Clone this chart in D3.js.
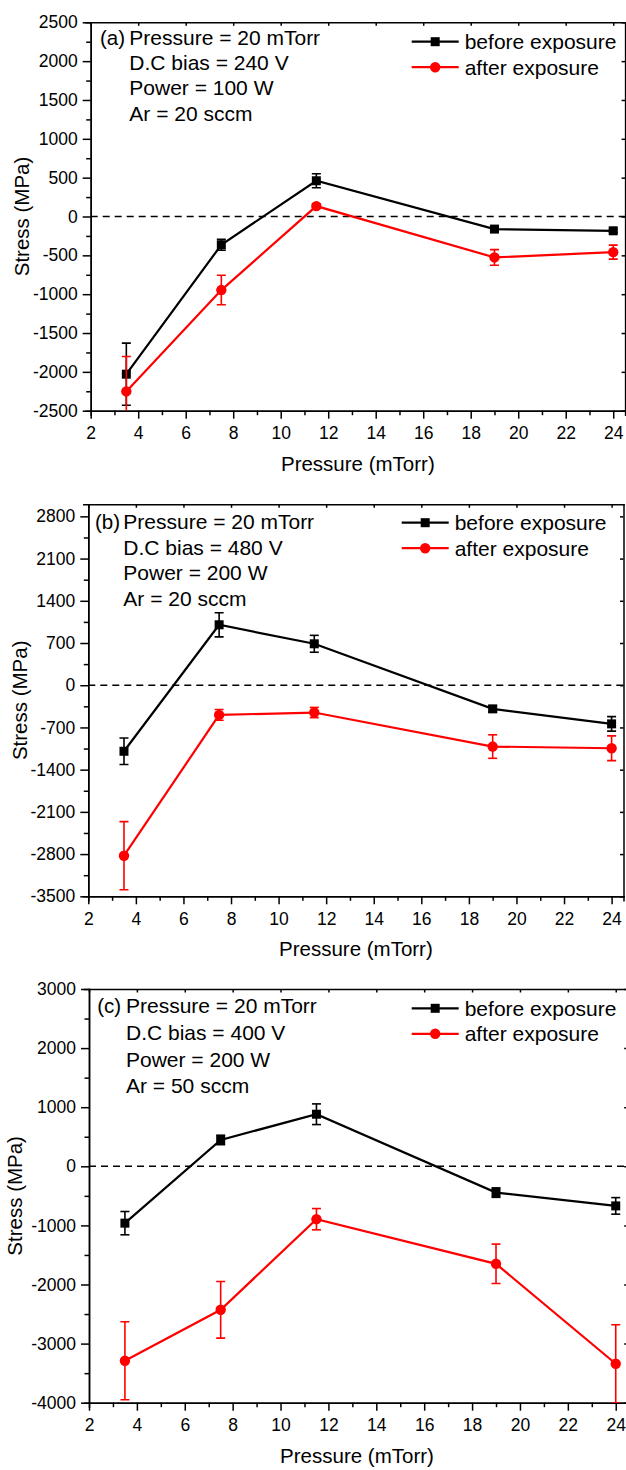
<!DOCTYPE html>
<html>
<head>
<meta charset="utf-8">
<script src="https://cdn.jsdelivr.net/npm/d3@7"></script>
<style>
  body { margin: 0; background: #fff; }
  svg { display: block; font-family: "Liberation Sans", Arial, sans-serif; }
  .axis path, .axis line { stroke: #000; stroke-width: 1.5; }
  .axis text { font-size: 17.5px; fill: #000; font-family: "Liberation Sans", Arial, sans-serif; }
</style>
</head>
<body>
<div id="chart-container"></div>
<script>
// Data
const pressure = [3.5, 7.5, 11.5, 19, 24];
const xTicks = [2, 4, 6, 8, 10, 12, 14, 16, 18, 20, 22, 24];

// panel (a)
const beforeA = [-2030, -364, 460, -162, -184];
const beforeErrA = [400, 70, 90, 20, 20];
const afterA = [-2252, -947, 134, -527, -459];
const afterErrA = [450, 190, 30, 100, 90];
const yTicksA = [-2500, -2000, -1500, -1000, -500, 0, 500, 1000, 1500, 2000, 2500];
const notesA = ["Pressure = 20 mTorr", "D.C bias = 240 V", "Power = 100 W", "Ar = 20 sccm"];

// panel (b)
const beforeB = [-1095, 1002, 687, -392, -641];
const beforeErrB = [220, 200, 140, 50, 120];
const afterB = [-2827, -492, -453, -1017, -1045];
const afterErrB = [565, 90, 85, 195, 205];
const yTicksB = [-3500, -2800, -2100, -1400, -700, 0, 700, 1400, 2100, 2800];
const notesB = ["Pressure = 20 mTorr", "D.C bias = 480 V", "Power = 200 W", "Ar = 20 sccm"];

// panel (c)
const beforeC = [-962, 446, 881, -445, -670];
const beforeErrC = [197, 80, 175, 80, 140];
const afterC = [-3290, -2428, -895, -1650, -3341];
const afterErrC = [660, 480, 180, 333, 660];
const yTicksC = [-4000, -3000, -2000, -1000, 0, 1000, 2000, 3000];
const notesC = ["Pressure = 20 mTorr", "D.C bias = 400 V", "Power = 200 W", "Ar = 50 sccm"];

const seriesNames = ["before exposure", "after exposure"];
const colors = ["#000000", "#ff0000"];

// Panel layout (pixel boxes of each frame)
const panels = [
  { id: "a", label: "(a)", box: { left: 90.7, right: 625.1, top: 22.3, bottom: 410.7 },
    yDomain: [-2500, 2500], yTicks: yTicksA, notes: notesA,
    before: beforeA, beforeErr: beforeErrA, after: afterA, afterErr: afterErrA,
    labelX: 100, noteX: 129.3, noteY: 45, noteGap: 25.2, titleX: 22, legendX: 411.7, legendY: 41.7 },
  { id: "b", label: "(b)", box: { left: 88.3, right: 623.5, top: 504.3, bottom: 896.3 },
    yDomain: [-3500, 3000], yTicks: yTicksB, notes: notesB,
    before: beforeB, beforeErr: beforeErrB, after: afterB, afterErr: afterErrB,
    labelX: 95, noteX: 123.3, noteY: 529.3, noteGap: 25.5, titleX: 20, legendX: 401.7, legendY: 522.7 },
  { id: "c", label: "(c)", box: { left: 89, right: 627.7, top: 989, bottom: 1402.7 },
    yDomain: [-4000, 3000], yTicks: yTicksC, notes: notesC,
    before: beforeC, beforeErr: beforeErrC, after: afterC, afterErr: afterErrC,
    labelX: 97.3, noteX: 126, noteY: 1013.3, noteGap: 26.7, titleX: 15, legendX: 411.7, legendY: 1008.3 }
];

const plain = d => String(d);

const svg = d3.select('#chart-container')
  .append('svg')
  .attr('width', 626)
  .attr('height', 1470);

panels.forEach(p => {
  const b = p.box;
  const x = d3.scaleLinear().domain([2, 24.5]).range([b.left, b.right]);
  const y = d3.scaleLinear().domain(p.yDomain).range([b.bottom, b.top]);
  const g = svg.append('g');

  const yStep = p.yTicks[1] - p.yTicks[0];
  const yMinor = p.yTicks.map(v => v + yStep / 2).filter(v => v < p.yDomain[1]);
  const xMinor = xTicks.map(v => v + 1).filter(v => v < 24.5);

  // clip for data
  g.append('clipPath').attr('id', 'clip-' + p.id)
    .append('rect')
    .attr('x', b.left).attr('y', b.top)
    .attr('width', b.right - b.left).attr('height', b.bottom - b.top);

  // minor ticks
  g.append('g').attr('class', 'axis')
    .attr('transform', `translate(${b.left},0)`)
    .call(d3.axisLeft(y).tickValues(yMinor).tickSize(4.5).tickFormat(''));
  g.append('g').attr('class', 'axis')
    .attr('transform', `translate(0,${b.bottom})`)
    .call(d3.axisBottom(x).tickValues(xMinor).tickSize(4.5).tickFormat(''));

  // major axes
  g.append('g').attr('class', 'axis')
    .attr('transform', `translate(${b.left},0)`)
    .call(d3.axisLeft(y).tickValues(p.yTicks).tickFormat(plain).tickSize(8).tickPadding(5).tickSizeOuter(0));
  g.append('g').attr('class', 'axis')
    .attr('transform', `translate(0,${b.bottom})`)
    .call(d3.axisBottom(x).tickValues(xTicks).tickFormat(plain).tickSize(8).tickPadding(8).tickSizeOuter(0));

  // top and right frame with small inward ticks
  g.append('g').attr('class', 'axis')
    .attr('transform', `translate(0,${b.top})`)
    .call(d3.axisTop(x).tickValues(xTicks).tickSize(-3.5).tickSizeOuter(0).tickFormat(''));
  g.append('g').attr('class', 'axis')
    .attr('transform', `translate(${b.right},0)`)
    .call(d3.axisRight(y).tickValues(p.yTicks).tickSize(-3.5).tickSizeOuter(0).tickFormat(''));

  g.selectAll('.axis path.domain').attr('stroke-linecap', 'square');

  // zero dashed line
  g.append('line')
    .attr('x1', b.left).attr('x2', b.right)
    .attr('y1', y(0)).attr('y2', y(0))
    .attr('stroke', '#000').attr('stroke-width', 1.5)
    .attr('stroke-dasharray', '7,5');

  // axis titles
  g.append('text')
    .attr('x', (b.left + Math.min(b.right, 625)) / 2)
    .attr('y', b.bottom + 60)
    .attr('text-anchor', 'middle')
    .attr('font-size', '20.5px')
    .text('Pressure (mTorr)');
  g.append('text')
    .attr('transform', `translate(${p.titleX},${(b.top + b.bottom) / 2}) rotate(-90)`)
    .attr('text-anchor', 'middle')
    .attr('dy', '0.35em')
    .attr('font-size', '20.5px')
    .text('Stress (MPa)');

  // series
  const series = [
    { vals: p.before, errs: p.beforeErr, color: colors[0], shape: 'square' },
    { vals: p.after, errs: p.afterErr, color: colors[1], shape: 'circle' }
  ];
  const dataG = g.append('g').attr('clip-path', `url(#clip-${p.id})`);
  const line = d3.line().x(d => x(d[0])).y(d => y(d[1]));

  series.forEach(s => {
    const pts = pressure.map((v, i) => [v, s.vals[i], s.errs[i]]);
    dataG.append('path')
      .datum(pts)
      .attr('d', line)
      .attr('fill', 'none')
      .attr('stroke', s.color)
      .attr('stroke-width', 2.2);

    const eb = dataG.append('g').attr('stroke', s.color).attr('stroke-width', 1.6);
    eb.selectAll('.stem').data(pts).enter().append('line')
      .attr('x1', d => x(d[0])).attr('x2', d => x(d[0]))
      .attr('y1', d => y(d[1] + d[2])).attr('y2', d => y(d[1] - d[2]));
    eb.selectAll('.capTop').data(pts).enter().append('line')
      .attr('x1', d => x(d[0]) - 4.5).attr('x2', d => x(d[0]) + 4.5)
      .attr('y1', d => y(d[1] + d[2])).attr('y2', d => y(d[1] + d[2]));
    eb.selectAll('.capBot').data(pts).enter().append('line')
      .attr('x1', d => x(d[0]) - 4.5).attr('x2', d => x(d[0]) + 4.5)
      .attr('y1', d => y(d[1] - d[2])).attr('y2', d => y(d[1] - d[2]));

    if (s.shape === 'square') {
      dataG.selectAll(null).data(pts).enter().append('rect')
        .attr('x', d => x(d[0]) - 4.5).attr('y', d => y(d[1]) - 4.5)
        .attr('width', 9).attr('height', 9)
        .attr('fill', s.color);
    } else {
      dataG.selectAll(null).data(pts).enter().append('circle')
        .attr('cx', d => x(d[0])).attr('cy', d => y(d[1]))
        .attr('r', 5.2)
        .attr('fill', s.color);
    }
  });

  // legend
  series.forEach((s, i) => {
    const ly = p.legendY + i * 25.5;
    const lg = g.append('g');
    lg.append('line')
      .attr('x1', p.legendX).attr('x2', p.legendX + 47)
      .attr('y1', ly).attr('y2', ly)
      .attr('stroke', s.color).attr('stroke-width', 2.2);
    if (s.shape === 'square') {
      lg.append('rect').attr('x', p.legendX + 23.5 - 4.5).attr('y', ly - 4.5)
        .attr('width', 9).attr('height', 9).attr('fill', s.color);
    } else {
      lg.append('circle').attr('cx', p.legendX + 23.5).attr('cy', ly)
        .attr('r', 5.2).attr('fill', s.color);
    }
    lg.append('text')
      .attr('x', p.legendX + 53)
      .attr('y', ly + 7.5)
      .attr('font-size', '21px')
      .text(seriesNames[i]);
  });

  // panel label and conditions
  g.append('text')
    .attr('x', p.labelX).attr('y', p.noteY)
    .attr('font-size', '20.5px')
    .text(p.label);
  p.notes.forEach((t, i) => {
    g.append('text')
      .attr('x', p.noteX)
      .attr('y', p.noteY + i * p.noteGap)
      .attr('font-size', '21px')
      .text(t);
  });
});
</script>
</body>
</html>
